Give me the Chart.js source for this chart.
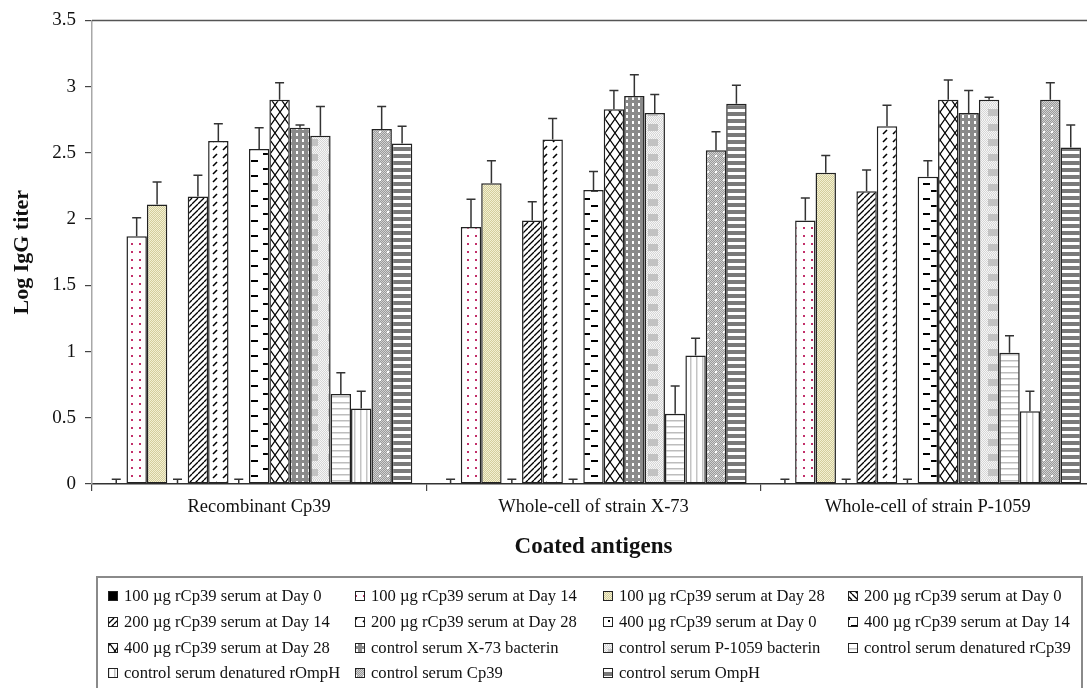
<!DOCTYPE html>
<html>
<head>
<meta charset="utf-8">
<script src="https://cdn.jsdelivr.net/npm/chart.js@4.4.1/dist/chart.umd.min.js"></script>
<style>
  html, body { margin: 0; padding: 0; background: #fff; overflow: hidden; }
  #wrap { position: absolute; left: 0; top: 0; width: 1100px; height: 688px; }
</style>
</head>
<body>
<div id="wrap"><canvas id="chart" width="1100" height="688"></canvas></div>
<script>
// DATA
const categories = ['Recombinant Cp39', 'Whole-cell of strain X-73', 'Whole-cell of strain P-1059'];
const seriesNames = [
  '100 \u00b5g rCp39 serum at Day 0', '100 \u00b5g rCp39 serum at Day 14', '100 \u00b5g rCp39 serum at Day 28', '200 \u00b5g rCp39 serum at Day 0',
  '200 \u00b5g rCp39 serum at Day 14', '200 \u00b5g rCp39 serum at Day 28', '400 \u00b5g rCp39 serum at Day 0', '400 \u00b5g rCp39 serum at Day 14',
  '400 \u00b5g rCp39 serum at Day 28', 'control serum X-73 bacterin', 'control serum P-1059 bacterin', 'control serum denatured rCp39',
  'control serum denatured rOmpH', 'control serum Cp39', 'control serum OmpH'
];
// log titer per series, one array per coated antigen
const recombinantCp39 = [0.005, 1.87, 2.11, 0.005, 2.17, 2.59, 0.005, 2.53, 2.90, 2.69, 2.63, 0.68, 0.57, 2.68, 2.57];
const wholeCellX73    = [0.005, 1.94, 2.27, 0.005, 1.99, 2.60, 0.005, 2.22, 2.83, 2.93, 2.80, 0.53, 0.97, 2.52, 2.87];
const wholeCellP1059  = [0.005, 1.99, 2.35, 0.005, 2.21, 2.70, 0.005, 2.32, 2.90, 2.80, 2.90, 0.99, 0.55, 2.90, 2.54];
// upper error (SD)
const sdRecombinantCp39 = [0.03, 0.14, 0.17, 0.03, 0.16, 0.13, 0.03, 0.16, 0.13, 0.02, 0.22, 0.16, 0.13, 0.17, 0.13];
const sdWholeCellX73    = [0.03, 0.21, 0.17, 0.03, 0.14, 0.16, 0.03, 0.14, 0.14, 0.16, 0.14, 0.21, 0.13, 0.14, 0.14];
const sdWholeCellP1059  = [0.03, 0.17, 0.13, 0.03, 0.16, 0.16, 0.03, 0.12, 0.15, 0.17, 0.02, 0.13, 0.15, 0.13, 0.17];
const yTicks = [0, 0.5, 1, 1.5, 2, 2.5, 3, 3.5];

const groups = [recombinantCp39, wholeCellX73, wholeCellP1059];
const sdGroups = [sdRecombinantCp39, sdWholeCellX73, sdWholeCellP1059];

// PATTERNS
function makePattern(w, h, draw) {
  const c = document.createElement('canvas');
  c.width = w; c.height = h;
  const g = c.getContext('2d');
  g.fillStyle = '#fff';
  g.fillRect(0, 0, w, h);
  draw(g, w, h);
  return c.getContext('2d').createPattern(c, 'repeat');
}
function checker(g, w, h, a, b) {
  for (let y = 0; y < h; y++) for (let x = 0; x < w; x++) {
    g.fillStyle = (x + y) % 2 ? a : b;
    g.fillRect(x, y, 1, 1);
  }
}
function diagLines(g, w, h, dir) {
  g.strokeStyle = '#000'; g.lineWidth = 1.3;
  for (let k = -1; k <= 1; k++) {
    g.beginPath();
    if (dir > 0) { g.moveTo(k * w, h); g.lineTo(k * w + w, 0); }
    else { g.moveTo(k * w, 0); g.lineTo(k * w + w, h); }
    g.stroke();
  }
}
const fills = [
  '#000',
  makePattern(8, 8, g => { g.fillStyle = '#c2306a'; g.fillRect(3, 3, 2, 2); }),
  makePattern(2, 2, (g, w, h) => checker(g, w, h, '#d3cd9c', '#f3f0d2')),
  makePattern(6, 6, (g, w, h) => diagLines(g, w, h, -1)),
  makePattern(6, 6, (g, w, h) => diagLines(g, w, h, 1)),
  makePattern(10, 8, g => { g.strokeStyle = '#000'; g.lineWidth = 1.6; g.beginPath(); g.moveTo(3, 6); g.lineTo(7, 2); g.stroke(); }),
  makePattern(6, 6, g => { g.fillStyle = '#000'; g.fillRect(2, 2, 2, 2); }),
  makePattern(20, 15, g => { g.fillStyle = '#000'; g.fillRect(3, 3, 7, 2); g.fillRect(11, 10, 7, 2); }),
  makePattern(10, 14, g => {
    g.strokeStyle = '#000'; g.lineWidth = 1.3;
    g.beginPath(); g.moveTo(0, 0); g.lineTo(10, 14); g.moveTo(10, 0); g.lineTo(0, 14); g.stroke();
  }),
  makePattern(6, 6, g => { g.fillStyle = '#8a8a8a'; g.fillRect(0, 0, 6, 6); g.fillStyle = '#fff'; g.fillRect(2, 1, 2, 3); }),
  makePattern(20, 15, (g, w, h) => { checker(g, w, h, '#d6d6d6', '#f6f6f6'); g.fillStyle = '#c2c2c2'; g.fillRect(8, 4, 10, 7); }),
  makePattern(1, 6, g => { g.fillStyle = '#bdbdbd'; g.fillRect(0, 0, 1, 1.5); }),
  makePattern(6, 1, g => { g.fillStyle = '#c4c4c4'; g.fillRect(0, 0, 1.5, 1); }),
  makePattern(8, 8, (g, w, h) => { checker(g, w, h, '#9a9a9a', '#d2d2d2'); g.fillStyle = '#fff'; g.fillRect(3, 3, 2, 2); }),
  makePattern(1, 7, g => { g.fillStyle = '#7a7a7a'; g.fillRect(0, 0, 1, 4); })
];

const datasets = seriesNames.map((name, i) => ({
  label: name,
  data: groups.map(grp => grp[i]),
  sd: sdGroups.map(grp => grp[i]),
  backgroundColor: fills[i],
  borderColor: '#222',
  borderWidth: 1.5,
  borderSkipped: false,
  categoryPercentage: 0.916,
  barPercentage: 1.0
}));

// Error bars (upper only, with cap)
const errorBars = {
  id: 'errorBars',
  afterDatasetsDraw(chart) {
    const ctx = chart.ctx, y = chart.scales.y;
    ctx.save();
    ctx.strokeStyle = '#333';
    ctx.lineWidth = 1.5;
    chart.data.datasets.forEach((ds, di) => {
      chart.getDatasetMeta(di).data.forEach((bar, j) => {
        const top = y.getPixelForValue(ds.data[j] + ds.sd[j]);
        ctx.beginPath();
        ctx.moveTo(bar.x, bar.y);
        ctx.lineTo(bar.x, top);
        ctx.moveTo(bar.x - 4.5, top);
        ctx.lineTo(bar.x + 4.5, top);
        ctx.stroke();
      });
    });
    ctx.restore();
  }
};

// Top frame line
const topLine = {
  id: 'topLine',
  afterDraw(chart) {
    const ctx = chart.ctx, a = chart.chartArea;
    ctx.save();
    ctx.strokeStyle = '#555';
    ctx.lineWidth = 1.5;
    ctx.beginPath();
    ctx.moveTo(a.left, a.top);
    ctx.lineTo(a.right, a.top);
    ctx.stroke();
    ctx.restore();
  }
};

// Boxed legend in 4 columns
const boxLegend = {
  id: 'boxLegend',
  afterDraw(chart) {
    const ctx = chart.ctx;
    const colX = [108, 355, 603, 848];
    const rowY = [596, 622, 648, 673];
    ctx.save();
    ctx.strokeStyle = '#8a8a8a';
    ctx.lineWidth = 2;
    ctx.strokeRect(97, 577, 985, 130);
    ctx.font = "16.6px 'Liberation Serif', 'Times New Roman', serif";
    ctx.textBaseline = 'middle';
    chart.data.datasets.forEach((ds, i) => {
      const x = colX[i % 4], y = rowY[Math.floor(i / 4)];
      ctx.fillStyle = ds.backgroundColor;
      ctx.fillRect(x, y - 5, 9, 9);
      ctx.strokeStyle = '#222';
      ctx.lineWidth = 1;
      ctx.strokeRect(x + 0.5, y - 4.5, 9, 9);
      ctx.fillStyle = '#111';
      ctx.fillText(ds.label, x + 16, y + 1);
    });
    ctx.restore();
  }
};

Chart.defaults.font.family = "'Liberation Serif', 'Times New Roman', serif";
Chart.defaults.color = '#111';

new Chart(document.getElementById('chart'), {
  type: 'bar',
  data: { labels: categories, datasets },
  options: {
    responsive: false,
    animation: false,
    layout: { padding: { top: 15, right: 5, bottom: 124, left: 0 } },
    plugins: { legend: { display: false }, tooltip: { enabled: false } },
    scales: {
      x: {
        grid: { offset: true, drawOnChartArea: false, tickLength: 7, color: '#444', lineWidth: 1.2 },
        border: { color: '#333', width: 1.5 },
        ticks: { font: { size: 18.5 }, padding: 5, color: '#111' },
        title: { display: true, text: 'Coated antigens', font: { size: 23, weight: 'bold' }, padding: { top: 0, bottom: 3 }, color: '#111' },
        afterFit(s) { s.height = 80; }
      },
      y: {
        min: 0,
        max: 3.5,
        afterBuildTicks(s) { s.ticks = yTicks.map(v => ({ value: v })); },
        grid: { drawOnChartArea: false, tickLength: 7, color: '#444', lineWidth: 1.2 },
        border: { color: '#a8a8a8', width: 1.5 },
        ticks: { font: { size: 19 }, padding: 9, color: '#111', callback: v => String(v) },
        title: { display: true, text: 'Log IgG titer', font: { size: 22, weight: 'bold' }, padding: { top: 9, bottom: 0 }, color: '#111' },
        afterFit(s) { s.width = 92; }
      }
    }
  },
  plugins: [errorBars, topLine, boxLegend]
});
</script>
</body>
</html>
